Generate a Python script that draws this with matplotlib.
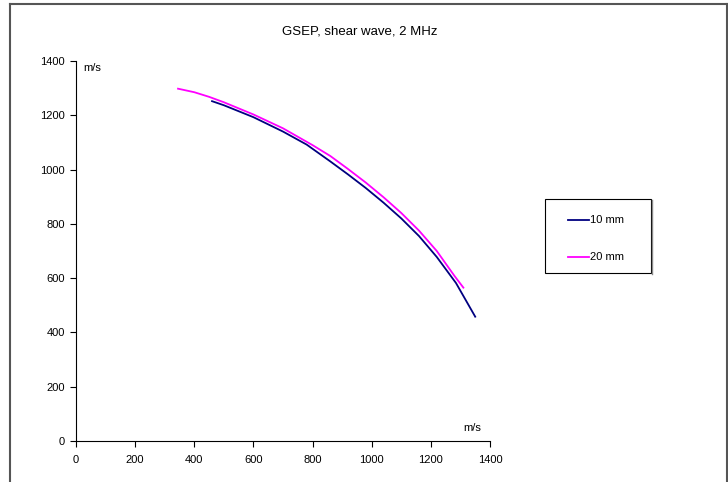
import matplotlib
matplotlib.use("Agg")
import matplotlib.pyplot as plt
from matplotlib.lines import Line2D
from matplotlib.patches import Rectangle

plt.rcParams['font.family'] = ['Liberation Sans', 'DejaVu Sans']

# Data (m/s)
x_10mm = [460, 500, 600, 700, 780, 860, 920, 980, 1040, 1100, 1160, 1220, 1285, 1350]
y_10mm = [1252, 1237, 1193, 1140, 1092, 1030, 982, 932, 878, 820, 755, 678, 582, 458]
x_20mm = [345, 400, 450, 500, 600, 700, 800, 860, 920, 980, 1040, 1100, 1160, 1220, 1280, 1310]
y_20mm = [1298, 1285, 1268, 1248, 1203, 1152, 1090, 1050, 1002, 952, 898, 840, 775, 700, 608, 565]
series_labels = ["10 mm", "20 mm"]
series_colors = ["#000080", "#FF00FF"]
title = "GSEP, shear wave, 2 MHz"
axis_unit = "m/s"
xticks = [0, 200, 400, 600, 800, 1000, 1200, 1400]
yticks = [0, 200, 400, 600, 800, 1000, 1200, 1400]

W, H = 728, 482
fig = plt.figure(figsize=(W / 100, H / 100), dpi=100)
ax = fig.add_axes([76 / W, 1 - 441 / H, (490 - 76) / W, (441 - 61) / H])

ax.plot(x_10mm, y_10mm, color=series_colors[0], lw=1.3, label=series_labels[0])
ax.plot(x_20mm, y_20mm, color=series_colors[1], lw=1.3, label=series_labels[1])

ax.set_xlim(0, 1400)
ax.set_ylim(0, 1400)
ax.set_xticks(xticks)
ax.set_yticks(yticks)
ax.tick_params(labelsize=8, length=4, width=0.8, colors='black')
ax.tick_params(axis='x', pad=6)
ax.tick_params(axis='y', pad=4)
for s in ['top', 'right']:
    ax.spines[s].set_visible(False)
for s in ['left', 'bottom']:
    ax.spines[s].set_linewidth(0.8)

fig.text(83 / W, 1 - 68 / H, axis_unit, fontsize=8, va='center', ha='left')
fig.text(472 / W, 1 - 428 / H, axis_unit, fontsize=8, va='center', ha='center')

fig.text(360 / W, 1 - 31 / H, title, fontsize=9.5, ha='center', va='center')

# Outer chart frame (left, top, right)
fc = '#555555'
fig.add_artist(Line2D([9.5 / W, 9.5 / W], [0, 1 - 4 / H], transform=fig.transFigure, color=fc, lw=1.5))
fig.add_artist(Line2D([9.5 / W, 726.5 / W], [1 - 4 / H, 1 - 4 / H], transform=fig.transFigure, color=fc, lw=1.5))
fig.add_artist(Line2D([726.5 / W, 726.5 / W], [0, 1 - 4 / H], transform=fig.transFigure, color=fc, lw=1.5))

# Legend (drawn manually to match the box geometry)
lx0, lx1, ly0, ly1 = 545, 651, 199, 273
fig.add_artist(Rectangle((lx0 / W, 1 - ly1 / H), (lx1 - lx0) / W, (ly1 - ly0) / H,
                         transform=fig.transFigure, facecolor='white', edgecolor='black', lw=0.8))
fig.add_artist(Line2D([(lx1 + 1) / W, (lx1 + 1) / W], [1 - (ly1 + 1) / H, 1 - (ly0 + 1) / H],
                      transform=fig.transFigure, color='#888888', lw=1.0))
entry_y = [220, 257]
for lab, col, ey in zip(series_labels, series_colors, entry_y):
    fig.add_artist(Line2D([568 / W, 589 / W], [1 - ey / H, 1 - ey / H], transform=fig.transFigure,
                          color=col, lw=1.3))
    fig.text(590 / W, 1 - ey / H, lab, fontsize=8, ha='left', va='center')

fig.savefig("out.png", dpi=100)
